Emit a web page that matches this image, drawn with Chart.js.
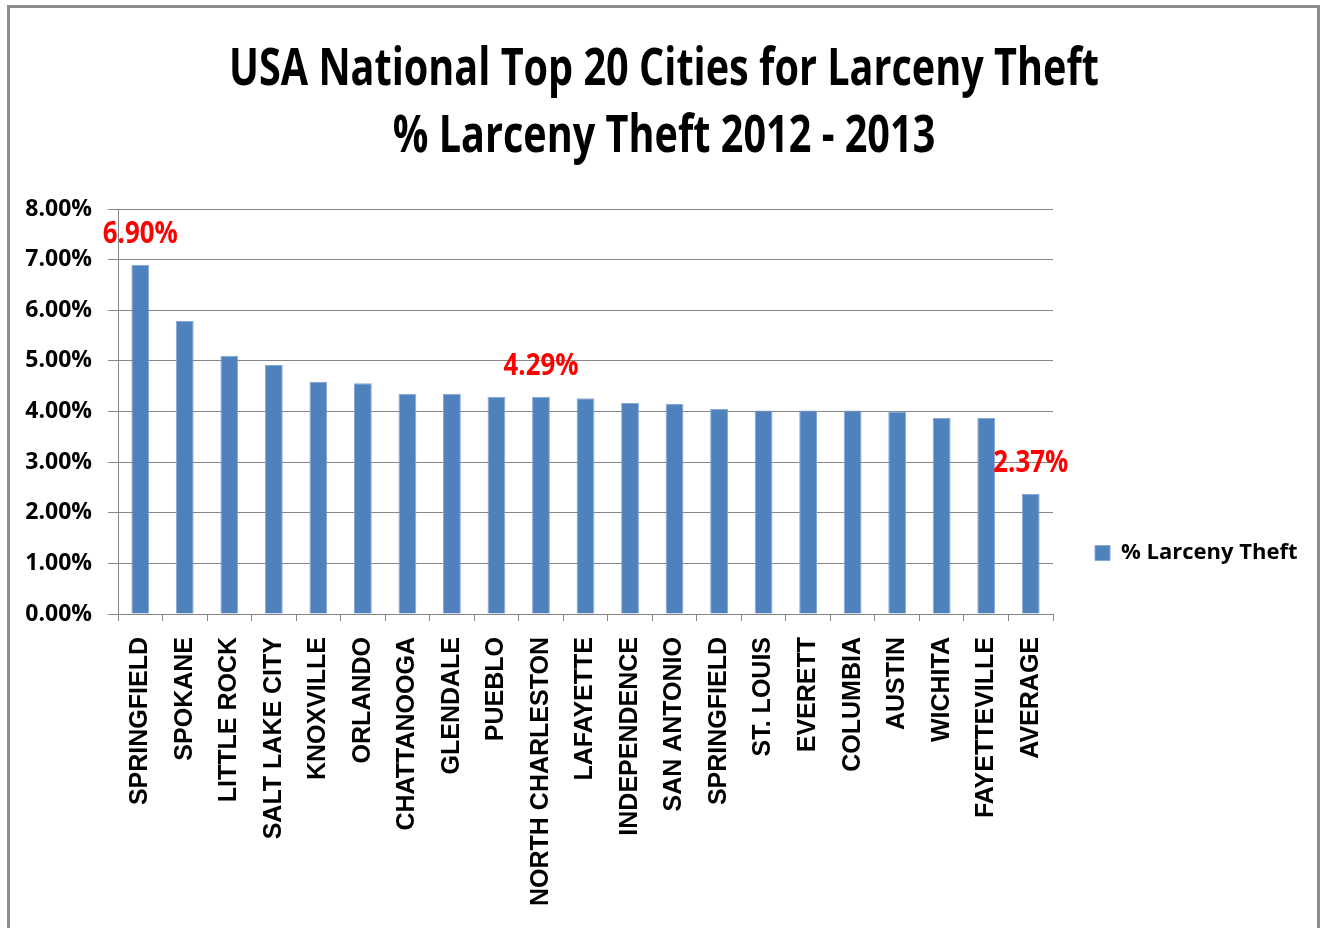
<!DOCTYPE html>
<html>
<head>
<meta charset="utf-8">
<title>USA National Top 20 Cities for Larceny Theft</title>
<script src="https://cdn.jsdelivr.net/npm/chart.js@4.4.1/dist/chart.umd.min.js"></script>
<style>
  html, body { margin: 0; padding: 0; background: #fff; overflow: hidden; }
  #frame { position: absolute; left: 7px; top: 5px; width: 1313px; height: 1000px; border: 3px solid #8c8c8c; box-sizing: border-box; }
  #chart { position: absolute; left: 0; top: 0; }
</style>
</head>
<body>
<div id="frame"></div>
<canvas id="chart" width="1321" height="1106"></canvas>
<script>
// --- datos del gráfico ---
const CITIES = [
  'SPRINGFIELD', 'SPOKANE', 'LITTLE ROCK', 'SALT LAKE CITY', 'KNOXVILLE',
  'ORLANDO', 'CHATTANOOGA', 'GLENDALE', 'PUEBLO', 'NORTH CHARLESTON',
  'LAFAYETTE', 'INDEPENDENCE', 'SAN ANTONIO', 'SPRINGFIELD', 'ST. LOUIS',
  'EVERETT', 'COLUMBIA', 'AUSTIN', 'WICHITA', 'FAYETTEVILLE', 'AVERAGE'
];
const LARCENY_PCT = [
  6.90, 5.79, 5.10, 4.92, 4.59,
  4.56, 4.35, 4.35, 4.29, 4.29,
  4.26, 4.17, 4.15, 4.05, 4.02,
  4.02, 4.02, 4.00, 3.87, 3.87, 2.37
];
const Y_TICKS = [0, 1, 2, 3, 4, 5, 6, 7, 8];
const LABELED_BARS = [0, 9, 20]; // barras con etiqueta roja
const TITLE_LINES = ['USA National Top 20 Cities for Larceny Theft', '% Larceny Theft 2012 - 2013'];
const SERIES_NAME = '% Larceny Theft';

Chart.defaults.font.family = "'Open Sans', sans-serif";
Chart.defaults.color = '#000';

// ancho del texto de la leyenda para dejar el área de datos en su sitio
const mctx = document.createElement('canvas').getContext('2d');
mctx.font = "bold 22px 'Open Sans', sans-serif";
const legendPadRight = Math.max(0, 190 - mctx.measureText(SERIES_NAME).width);

// título estrecho (como Calibri comprimido)
const titlePlugin = {
  id: 'squeezedTitle',
  afterDraw(chart) {
    const ctx = chart.ctx;
    ctx.save();
    ctx.font = "bold 52px 'Open Sans', sans-serif";
    ctx.fillStyle = '#000';
    ctx.textAlign = 'center';
    ctx.textBaseline = 'alphabetic';
    const sx = 870 / ctx.measureText(TITLE_LINES[0]).width;
    TITLE_LINES.forEach((line, i) => {
      ctx.save();
      ctx.translate(664, 85 + i * 67);
      ctx.scale(sx, 1);
      ctx.fillText(line, 0, 0);
      ctx.restore();
    });
    ctx.restore();
  }
};

// etiquetas rojas sobre algunas barras (también algo comprimidas)
const valueLabels = {
  id: 'valueLabels',
  afterDatasetsDraw(chart) {
    const ctx = chart.ctx;
    const meta = chart.getDatasetMeta(0);
    ctx.save();
    ctx.font = "bold 30px 'Open Sans', sans-serif";
    ctx.fillStyle = '#ff0000';
    ctx.textAlign = 'center';
    ctx.textBaseline = 'alphabetic';
    const sx = 75 / ctx.measureText('6.90%').width;
    LABELED_BARS.forEach(i => {
      const bar = meta.data[i];
      ctx.save();
      ctx.translate(bar.x, bar.y - 22);
      ctx.scale(sx, 1);
      ctx.fillText(LARCENY_PCT[i].toFixed(2) + '%', 0, 0);
      ctx.restore();
    });
    ctx.restore();
  }
};

new Chart(document.getElementById('chart'), {
  type: 'bar',
  data: {
    labels: CITIES,
    datasets: [{
      label: SERIES_NAME,
      data: LARCENY_PCT,
      backgroundColor: '#4f81bd',
      borderColor: '#86a8d4',
      borderWidth: 1,
      barPercentage: 0.8,
      categoryPercentage: 0.5
    }]
  },
  options: {
    responsive: false,
    animation: false,
    devicePixelRatio: 1,
    layout: { padding: { left: 0, right: legendPadRight, top: 0, bottom: 0 } },
    plugins: {
      // reserva el espacio del título; el texto lo dibuja squeezedTitle
      title: { display: true, text: ['', ''], font: { size: 20, lineHeight: 1 }, padding: { top: 0, bottom: 169 } },
      legend: {
        position: 'right',
        labels: { boxWidth: 15, boxHeight: 15, padding: 42, color: '#000', font: { size: 22, weight: 'bold' } }
      },
      tooltip: { enabled: false }
    },
    scales: {
      x: {
        grid: { offset: true, drawOnChartArea: false, drawTicks: true, tickLength: 7, color: '#868686' },
        border: { color: '#868686' },
        ticks: {
          autoSkip: false, minRotation: 90, maxRotation: 90, padding: 16, color: '#000',
          font: { family: "'Liberation Sans', Arial, sans-serif", size: 25, weight: 'bold' }
        },
        afterFit(scale) { scale.height = 492; }
      },
      y: {
        min: 0,
        max: 8,
        afterBuildTicks(scale) { scale.ticks = Y_TICKS.map(v => ({ value: v })); },
        grid: { color: '#868686', tickLength: 10 },
        border: { color: '#868686' },
        ticks: {
          padding: 16, color: '#000',
          callback: v => v.toFixed(2) + '%',
          font: { size: 23, weight: 'bold' }
        },
        afterFit(scale) { scale.width = 118; }
      }
    }
  },
  plugins: [titlePlugin, valueLabels]
});
</script>
</body>
</html>
